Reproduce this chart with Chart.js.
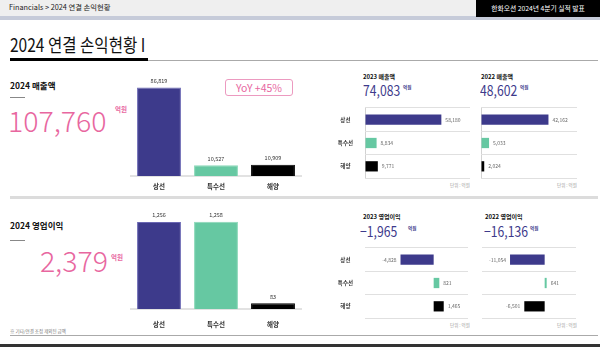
<!DOCTYPE html>
<html><head><meta charset="utf-8">
<script src="https://cdn.jsdelivr.net/npm/chart.js@4.4.1/dist/chart.umd.min.js"></script>
<style>
html,body{margin:0;padding:0;background:#fff;}
body{width:600px;height:347px;position:relative;overflow:hidden;font-family:'Noto Sans CJK KR','Noto Sans',sans-serif;color:#111;}
.a{position:absolute;white-space:nowrap;line-height:1;}
.n{transform:scaleX(0.84);transform-origin:0 0;}
canvas{position:absolute;}
</style></head><body>
<div class="a" style="left:0;top:0;width:600px;height:16px;background:#efefef;"></div>
<div class="a" style="left:0;top:16px;width:600px;height:4px;background:#c6cbd9;"></div>
<div class="a" style="left:9px;top:4px;font-size:7.3px;color:#222;">Financials &gt; 2024 연결 손익현황</div>
<div class="a" style="left:476px;top:0;width:124px;height:17px;background:#000;"></div>
<div class="a" style="left:476px;top:5px;width:124px;text-align:center;font-size:6.8px;color:#fff;">한화오션 2024년 4분기 실적 발표</div>

<div class="a n" style="left:10px;top:35px;font-size:18.5px;color:#111;">2024 연결 손익현황 I</div>
<div class="a" style="left:10px;top:58px;width:138px;height:3px;background:#000;"></div>
<div class="a" style="left:148px;top:60px;width:450px;height:1px;background:#aaa;"></div>

<div class="a" style="left:10px;top:81px;font-size:8.5px;font-weight:bold;">2024 매출액</div>
<div class="a" style="left:10px;top:97px;width:15px;height:1px;background:#888;"></div>
<div class="a" id="tSales" style="left:8px;top:106px;font-size:28.5px;font-weight:300;color:#e8679f;"></div>
<div class="a" style="left:115px;top:106px;font-size:6.5px;font-weight:bold;color:#e8679f;">억원</div>
<div class="a" style="left:225px;top:79px;width:66px;height:15px;border:1px solid #ec9ac0;border-radius:3px;text-align:center;font-size:10.5px;line-height:15px;color:#e8679f;">YoY +45%</div>

<div class="a" style="left:10px;top:196px;width:588px;height:3px;background:#dcdcdc;"></div>

<div class="a" style="left:10px;top:221px;font-size:8.5px;font-weight:bold;">2024 영업이익</div>
<div class="a" style="left:10px;top:240px;width:15px;height:1px;background:#888;"></div>
<div class="a" id="tOp" style="right:492px;top:246px;font-size:28.5px;font-weight:300;color:#e8679f;"></div>
<div class="a" style="left:111px;top:254px;font-size:6.5px;font-weight:bold;color:#e8679f;">억원</div>
<div class="a" style="left:10px;top:329px;font-size:4.5px;color:#777;">※ 기타/연결 조정 제외된 금액</div>

<div class="a" style="left:10px;top:335px;width:588px;height:1px;background:#aaa;"></div>
<div class="a" style="left:0;top:344px;width:600px;height:3px;background:#333;"></div>

<!-- right panel headers -->
<div class="a" style="left:363px;top:74px;font-size:6px;font-weight:bold;">2023 매출액</div>
<div class="a n" id="tS23" style="left:363px;top:83px;font-size:14.5px;color:#3d3a8b;"></div>
<div class="a" style="left:403px;top:85px;font-size:4.5px;font-weight:bold;color:#3d3a8b;">억원</div>
<div class="a" style="left:481px;top:74px;font-size:6px;font-weight:bold;">2022 매출액</div>
<div class="a n" id="tS22" style="left:480px;top:83px;font-size:14.5px;color:#3d3a8b;"></div>
<div class="a" style="left:520px;top:85px;font-size:4.5px;font-weight:bold;color:#3d3a8b;">억원</div>
<div class="a" style="left:450px;top:183px;font-size:4.5px;color:#999;">단위 : 억원</div>
<div class="a" style="left:557px;top:183px;font-size:4.5px;color:#999;">단위 : 억원</div>

<div class="a" style="left:363px;top:214px;font-size:6px;font-weight:bold;">2023 영업이익</div>
<div class="a n" id="tO23" style="left:360px;top:224px;font-size:14.5px;color:#3d3a8b;"></div>
<div class="a" style="left:408px;top:226px;font-size:4.5px;font-weight:bold;color:#3d3a8b;">억원</div>
<div class="a" style="left:485px;top:214px;font-size:6px;font-weight:bold;">2022 영업이익</div>
<div class="a n" id="tO22" style="left:484px;top:224px;font-size:14.5px;color:#3d3a8b;"></div>
<div class="a" style="left:530px;top:226px;font-size:4.5px;font-weight:bold;color:#3d3a8b;">억원</div>
<div class="a" style="left:450px;top:323px;font-size:4.5px;color:#999;">단위 : 억원</div>
<div class="a" style="left:557px;top:323px;font-size:4.5px;color:#999;">단위 : 억원</div>

<canvas id="c1" width="182" height="125" style="left:125px;top:70px;"></canvas>
<canvas id="c2" width="182" height="133" style="left:125px;top:200px;"></canvas>
<canvas id="c3" width="145" height="80" style="left:330px;top:104px;"></canvas>
<canvas id="c4" width="110" height="80" style="left:475px;top:104px;"></canvas>
<canvas id="c5" width="145" height="80" style="left:330px;top:244px;"></canvas>
<canvas id="c6" width="110" height="80" style="left:475px;top:244px;"></canvas>

<script>
const categories = ['상선', '특수선', '해양'];
const sales2024 = [86819, 10527, 10909];
const op2024 = [1256, 1258, 83];
const sales2023 = [58180, 8834, 9771];
const sales2022 = [42162, 5033, 2024];
const op2023 = [-4828, 821, 1465];
const op2022 = [-11054, 641, -6501];
const totalSales2024 = 107760;
const totalOp2024 = 2379;
const totalSales2023 = 74083;
const totalSales2022 = 48602;
const totalOp2023 = -1965;
const totalOp2022 = -16136;

const FONT = "'Noto Sans CJK KR','Noto Sans',sans-serif";
const barColors = ['#3d3a8b', '#66c8a2', '#000000'];
const barBorders = ['#6a67b3', '#8ad8b8', '#000000'];
const fmt = v => (v < 0 ? '-' : '') + Math.abs(v).toLocaleString('en-US');
const fmtBig = v => (v < 0 ? '\u2212' : '') + Math.abs(v).toLocaleString('en-US');

document.getElementById('tSales').textContent = fmtBig(totalSales2024);
document.getElementById('tOp').textContent = fmtBig(totalOp2024);
document.getElementById('tS23').textContent = fmtBig(totalSales2023);
document.getElementById('tS22').textContent = fmtBig(totalSales2022);
document.getElementById('tO23').textContent = fmtBig(totalOp2023);
document.getElementById('tO22').textContent = fmtBig(totalOp2022);

const valueLabels = {
  id: 'valueLabels',
  afterDatasetsDraw(chart, args, opts) {
    const ctx = chart.ctx;
    const meta = chart.getDatasetMeta(0);
    const data = chart.data.datasets[0].data;
    ctx.save();
    ctx.font = opts.size + 'px ' + FONT;
    ctx.fillStyle = opts.color;
    meta.data.forEach((bar, i) => {
      const v = data[i];
      const t = fmt(v);
      if (chart.options.indexAxis === 'y') {
        ctx.textBaseline = 'middle';
        if (v < 0) { ctx.textAlign = 'right'; ctx.fillText(t, bar.x - opts.gap, bar.y); }
        else { ctx.textAlign = 'left'; ctx.fillText(t, bar.x + opts.gap, bar.y); }
      } else {
        ctx.textAlign = 'center'; ctx.textBaseline = 'bottom';
        ctx.fillText(t, bar.x, bar.y - opts.gap);
      }
    });
    ctx.restore();
  }
};

function vChart(id, values, max, pad, tickPad, axisH) {
  return new Chart(document.getElementById(id), {
    type: 'bar',
    data: { labels: categories, datasets: [{ data: values, backgroundColor: barColors, borderColor: barBorders, borderWidth: 1, borderSkipped: 'bottom', categoryPercentage: 1, barPercentage: 0.77 }] },
    options: {
      responsive: false, animation: false, devicePixelRatio: 1,
      layout: { padding: pad },
      plugins: { legend: { display: false }, tooltip: { enabled: false }, valueLabels: { size: 5.5, color: '#333', gap: 4 } },
      scales: {
        x: { grid: { display: false, drawTicks: false }, border: { display: true, color: '#e2e2e2', width: 2 },
             ticks: { padding: tickPad, color: '#333', font: { family: FONT, size: 6.5, weight: 'bold' } },
             afterFit: s => { s.height = axisH; } },
        y: { display: false, min: 0, max: max }
      }
    },
    plugins: [valueLabels]
  });
}

function hChart(id, values, min, max, showLabels, yWidth, pad) {
  return new Chart(document.getElementById(id), {
    type: 'bar',
    data: { labels: categories, datasets: [{ data: values, backgroundColor: barColors, categoryPercentage: 1, barPercentage: 0.44 }] },
    options: {
      indexAxis: 'y',
      responsive: false, animation: false, devicePixelRatio: 1,
      layout: { padding: pad },
      plugins: { legend: { display: false }, tooltip: { enabled: false }, valueLabels: { size: 5, color: '#666', gap: 4 } },
      scales: {
        x: { min: min, max: max,
             ticks: { display: false },
             grid: { drawTicks: false, color: c => (c.tick && c.tick.value === 0) ? '#d2d2d2' : 'rgba(0,0,0,0)', lineWidth: 1 },
             border: { display: false },
             afterFit: s => { s.height = 0; s.paddingLeft = 0; s.paddingRight = 0; } },
        y: { grid: { offset: true, drawTicks: false, color: '#e0e0e0', lineWidth: 1 },
             border: { display: false },
             ticks: { display: showLabels, padding: 12, crossAlign: 'center', color: '#333', font: { family: FONT, size: 5.5, weight: 'bold' } },
             afterFit: s => { s.width = yWidth; s.paddingTop = 0; s.paddingBottom = 0; } }
      }
    },
    plugins: [valueLabels]
  });
}

vChart('c1', sales2024, 100000, { left: 5.5, right: 5.5, top: 4, bottom: 0 }, 7, 19);
vChart('c2', op2024, 1500, { left: 5.5, right: 5.5, top: 5, bottom: 0 }, 12, 24);
hChart('c3', sales2023, 0, 80000, true, 35, { left: 0, right: 5, top: 4, bottom: 6 });
hChart('c4', sales2022, 0, 60000, false, 6, { left: 0, right: 8, top: 4, bottom: 6 });
hChart('c5', op2023, -10000, 5000, true, 35, { left: 0, right: 7, top: 4, bottom: 6 });
hChart('c6', op2022, -20000, 10000, false, 7, { left: 0, right: 9, top: 4, bottom: 6 });
</script>
</body></html>
